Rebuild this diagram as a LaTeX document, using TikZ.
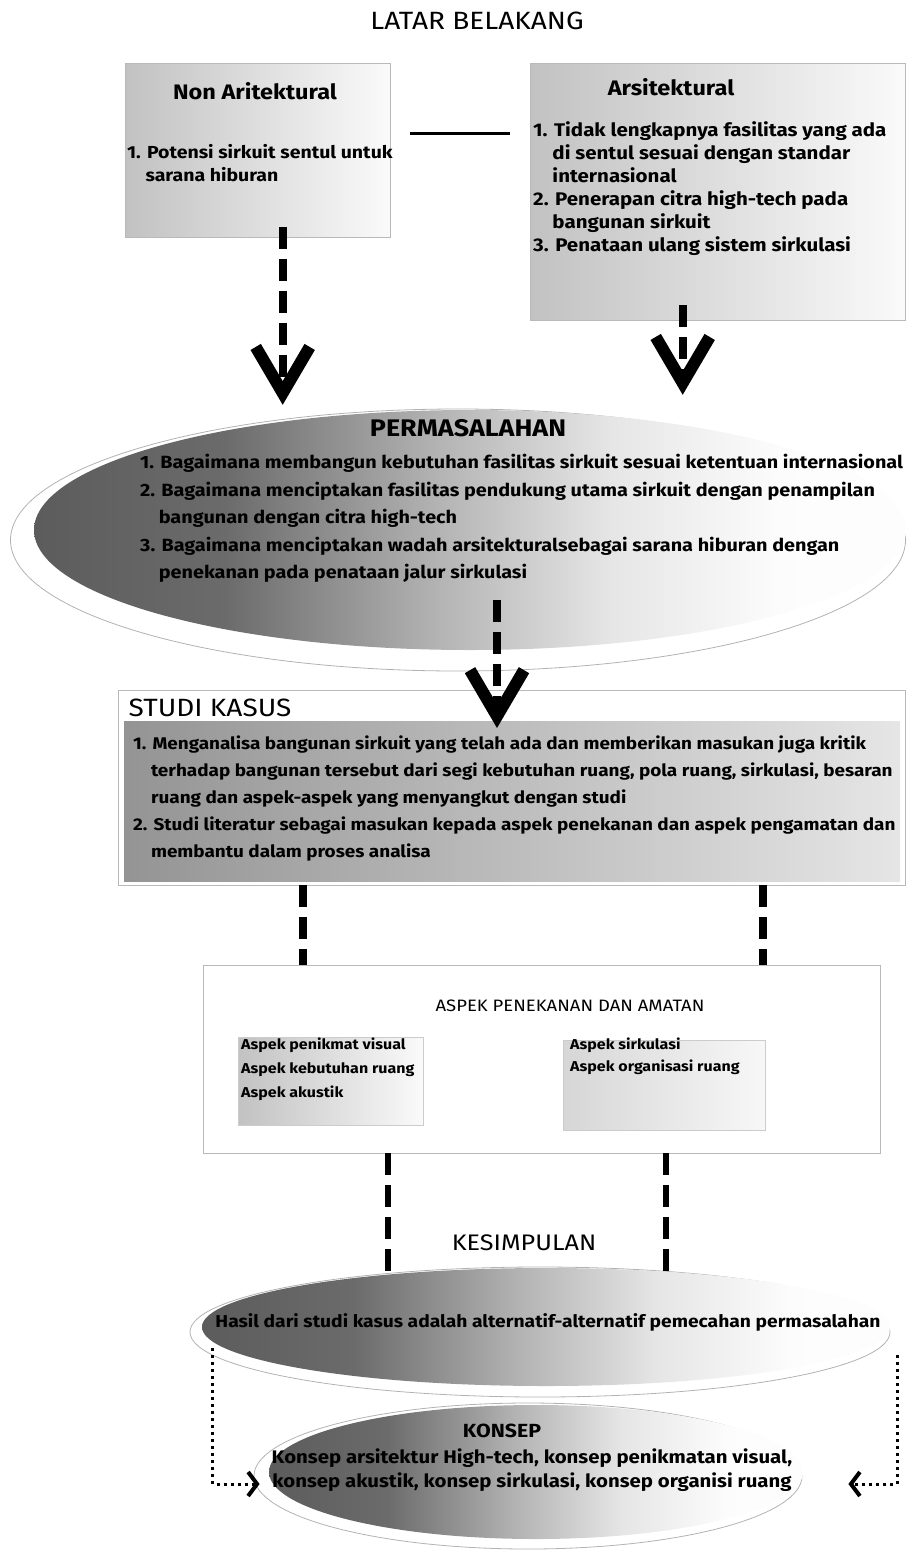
\documentclass[tikz,border=0pt]{standalone}
\usepackage{fontspec}
\setmainfont[FakeStretch=1.12]{Fira Sans}
\usetikzlibrary{arrows.meta,shapes.geometric,calc}

\pgfdeclarehorizontalshading{darkfade}{100bp}{rgb(0bp)=(0.36,0.36,0.36); rgb(25bp)=(0.36,0.36,0.36); rgb(36bp)=(0.42,0.42,0.42); rgb(48bp)=(0.70,0.70,0.70); rgb(58bp)=(0.90,0.90,0.90); rgb(68bp)=(0.99,0.99,0.99); rgb(100bp)=(1,1,1)}
\pgfdeclarehorizontalshading{boxfade}{100bp}{rgb(0bp)=(0.76,0.76,0.76); rgb(25bp)=(0.76,0.76,0.76); rgb(75bp)=(0.98,0.98,0.98); rgb(100bp)=(0.98,0.98,0.98)}
\pgfdeclarehorizontalshading{studifade}{100bp}{rgb(0bp)=(0.58,0.58,0.58); rgb(25bp)=(0.58,0.58,0.58); rgb(75bp)=(0.90,0.90,0.90); rgb(100bp)=(0.90,0.90,0.90)}
\pgfdeclarehorizontalshading{lightfade}{100bp}{rgb(0bp)=(0.84,0.84,0.84); rgb(25bp)=(0.84,0.84,0.84); rgb(75bp)=(0.97,0.97,0.97); rgb(100bp)=(0.97,0.97,0.97)}
\newcommand{\numind}{\hphantom{1.\ }}

\begin{document}
\begin{tikzpicture}[x=1pt,y=-1pt,
    head/.style={font=\fontsize{#1}{24}\selectfont,anchor=base,inner sep=0},
    head/.default=25,
    bhead/.style={font=\bfseries\fontsize{#1}{22}\selectfont,anchor=base,inner sep=0},
    bhead/.default=21,
    items/.style={font=\bfseries\fontsize{17.4}{#1}\selectfont,align=left,anchor=north west,inner sep=0},
    items/.default=23,
    frame/.style={draw=gray!55,anchor=north west,inner sep=0},
    fadebox/.style={frame,shading=boxfade},
    oval/.style={ellipse,inner sep=0},
    ovalline/.style={oval,draw=gray!60,line width=0.8pt},
    bigdash/.style={line width=8pt,dash pattern=on 22pt off 10pt},
    bigarrow/.style={bigdash,-{Straight Barb[length=46pt,width=54pt,line width=12pt]}},
    dotarrow/.style={line width=3pt,dash pattern=on 3pt off 4pt,-{Straight Barb[length=9pt,width=24pt,line width=4pt]}}]
  \useasboundingbox (0,0) rectangle (920,1550);

  % latar belakang
  \node[head] (latar) at (477,29) {LATAR BELAKANG};
  \node[fadebox,minimum width=265,minimum height=174] (nonars) at (125,63) {};
  \node[bhead] (nonarst) at (255,99) {Non Aritektural};
  \node[items] (nonarsi) at (127,144) {1. Potensi sirkuit sentul untuk\\\numind sarana hiburan};
  \node[fadebox,minimum width=375,minimum height=257] (ars) at (530,63) {};
  \node[bhead] (arst) at (671,95) {Arsitektural};
  \node[items,font=\bfseries\fontsize{18.3}{23}\selectfont] (arsi) at (533,121) {1. Tidak lengkapnya fasilitas yang ada\\\numind di sentul sesuai dengan standar\\\numind internasional\\2. Penerapan citra high-tech pada\\\numind bangunan sirkuit\\3. Penataan ulang sistem sirkulasi};
  \path ([yshift=17pt]nonars.east) coordinate (nj);
  \draw[line width=3pt,shorten <=20pt,shorten >=20pt] (nj) -- (nj -| ars.west);

  % permasalahan
  \node[ovalline,minimum width=895,minimum height=262] (masout) at (458,540) {};
  \node[oval,shading=darkfade,minimum width=872,minimum height=240] (masalah) at (470,530) {};
  \node[bhead=24] (masalaht) at (468,436) {PERMASALAHAN};
  \node[items=27.5,font=\bfseries\fontsize{17.7}{27.5}\selectfont] (masalahi) at (140,454) {1. Bagaimana membangun kebutuhan fasilitas sirkuit sesuai ketentuan internasional\\2. Bagaimana menciptakan fasilitas pendukung utama sirkuit dengan penampilan\\\numind bangunan dengan citra high-tech\\3. Bagaimana menciptakan wadah arsitekturalsebagai sarana hiburan dengan\\\numind penekanan pada penataan jalur sirkulasi};
  \coordinate (a1) at ($(nonars.south)+(25,-10)$);
  \coordinate (a2) at ($(ars.south)+(-35,-15)$);
  \draw[bigarrow] (a1) -- ($(a1 |- masalah.north)+(0,-5)$);
  \draw[bigarrow] (a2) -- ($(a2 |- masalah.north)+(0,-15)$);

  % studi kasus
  \node[frame,minimum width=787,minimum height=195] (studi) at (118,690) {};
  \node[frame,draw=none,shading=studifade,minimum width=776,minimum height=160] (studiin) at (124,721) {};
  \node[head] (studit) at (210,716) {STUDI KASUS};
  \node[items=27,font=\bfseries\fontsize{16.9}{27}\selectfont] (studii) at (133,736) {1. Menganalisa bangunan sirkuit yang telah ada dan memberikan masukan juga kritik\\\numind terhadap bangunan tersebut dari segi kebutuhan ruang, pola ruang, sirkulasi, besaran\\\numind ruang dan aspek-aspek yang menyangkut dengan studi\\2. Studi literatur sebagai masukan kepada aspek penekanan dan aspek pengamatan dan\\\numind membantu dalam proses analisa};
  \coordinate (a3) at ($(masalah.south)+(27,-50)$);
  \draw[bigarrow] (a3) -- ($(a3 |- studi.north)+(0,38)$);

  % aspek penekanan
  \node[frame,minimum width=677,minimum height=188] (aspek) at (203,965) {};
  \node[head=16.5] (aspekt) at (570,1011) {ASPEK PENEKANAN DAN AMATAN};
  \node[fadebox,draw=gray!40,minimum width=185,minimum height=88] (askiri) at (238,1037) {};
  \node[items=24,font=\bfseries\fontsize{14.3}{24}\selectfont] (askirii) at (241,1038) {Aspek penikmat visual\\Aspek kebutuhan ruang\\Aspek akustik};
  \node[frame,draw=gray!40,shading=lightfade,minimum width=202,minimum height=90] (askanan) at (563,1040) {};
  \node[items=22,font=\bfseries\fontsize{14.3}{22}\selectfont] (askanani) at (570,1038) {Aspek sirkulasi\\Aspek organisasi ruang};
  \draw[bigdash] ($(studi.south west)+(185,0)$) -- ($(aspek.north west)+(100,0)$);
  \draw[bigdash] ($(studi.south west)+(645,0)$) -- ($(aspek.north west)+(560,0)$);

  % kesimpulan
  \node[head=22.5] (kesimt) at (524,1250) {KESIMPULAN};
  \node[ovalline,minimum width=700,minimum height=130] (kesout) at (540,1332) {};
  \node[oval,shading=darkfade,minimum width=688,minimum height=118] (kesim) at (546,1327) {};
  \node[bhead=17.2] (kesimi) at (548,1327) {Hasil dari studi kasus adalah alternatif-alternatif pemecahan permasalahan};
  \draw[bigdash,line width=6.5pt] ($(aspek.south west)+(185,0)$) -- ($(kesout.north)+(-152,12)$);
  \draw[bigdash,line width=6.5pt] ($(aspek.south west)+(463,0)$) -- ($(kesout.north)+(126,8)$);

  % konsep
  \node[ovalline,minimum width=548,minimum height=146] (konout) at (528,1476) {};
  \node[oval,shading=darkfade,minimum width=534,minimum height=134] (konsep) at (536,1472) {};
  \node[bhead=19] (konsept) at (502,1437) {KONSEP};
  \node[items=24,font=\bfseries\fontsize{18.2}{24}\selectfont,align=center,anchor=north] (konsepi) at (532,1449) {Konsep arsitektur High-tech, konsep penikmatan visual,\\konsep akustik, konsep sirkulasi, konsep organisi ruang};
  \coordinate (kl) at ($(kesout.west)+(23,16)$);
  \coordinate (kr) at ($(kesout.east)+(7,23)$);
  \draw[dotarrow] (kl) |- ($(konout.west)+(6,8)$);
  \draw[dotarrow] (kr) |- ($(konout.east)+(46,8)$);
\end{tikzpicture}
\end{document}
